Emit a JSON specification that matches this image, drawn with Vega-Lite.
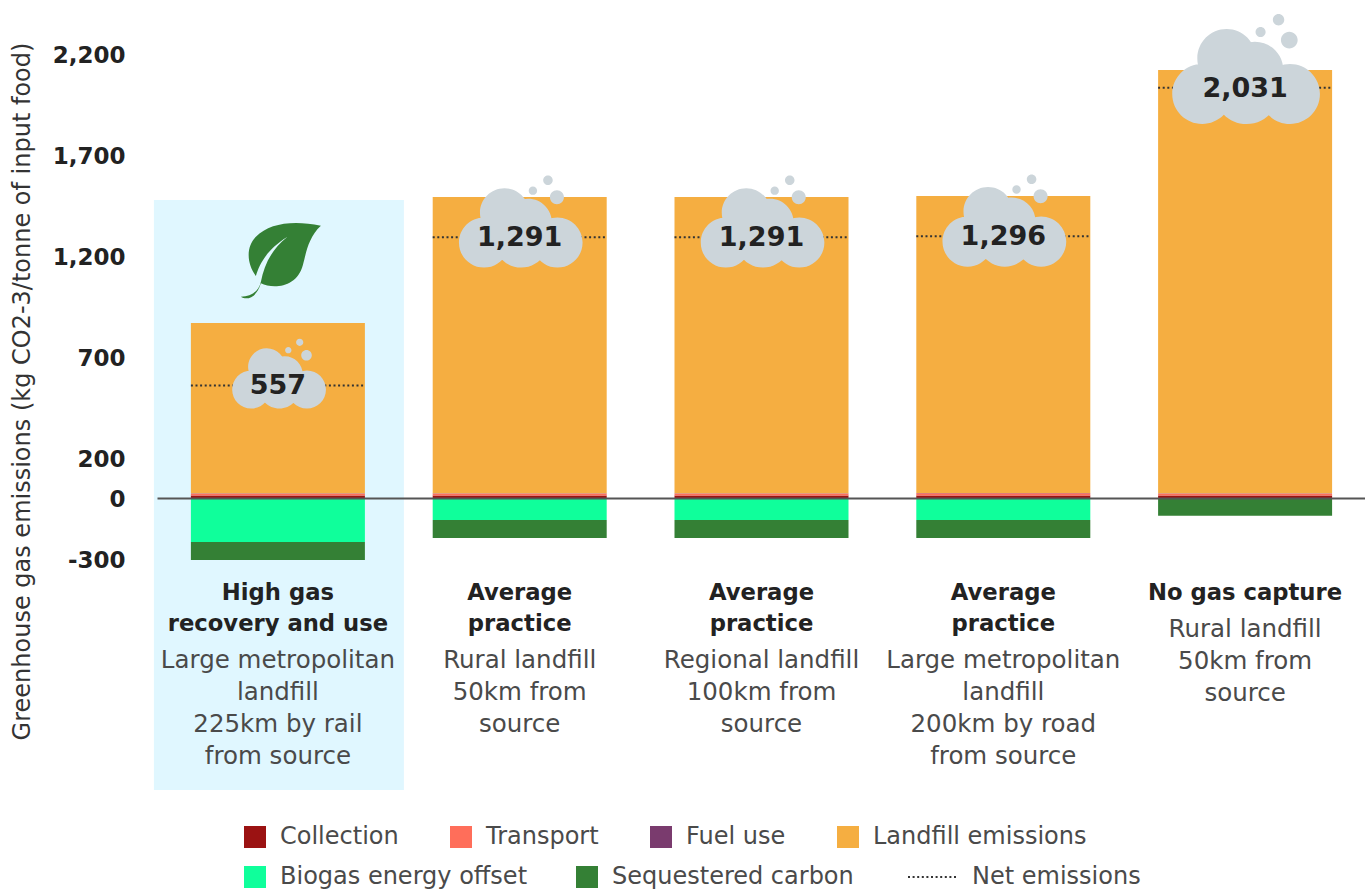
{
"$schema":"https://vega.github.io/schema/vega-lite/v6.json",
"width":1365,"height":890,"padding":0,"autosize":{"type":"none"},"background":"white",
"config":{"view":{"stroke":null},"font":"DejaVu Sans","text":{"font":"DejaVu Sans"},
"legend":{"title":null,"orient":"none","direction":"horizontal","symbolType":"square","symbolSize":484,"symbolOpacity":1,"symbolStrokeWidth":0,"labelFont":"DejaVu Sans","labelFontSize":24,"labelColor":"#4a4a4a","labelOffset":13,"columnPadding":50,"labelLimit":400,"padding":0}},
"datasets":{
"stack":[
{"scenario":"High gas recovery and use","series":"Collection","rank":1,"value":12},
{"scenario":"High gas recovery and use","series":"Transport","rank":2,"value":10},
{"scenario":"High gas recovery and use","series":"Fuel use","rank":3,"value":1},
{"scenario":"High gas recovery and use","series":"Landfill emissions","rank":4,"value":843},
{"scenario":"High gas recovery and use","series":"Biogas energy offset","rank":1,"value":-218},
{"scenario":"High gas recovery and use","series":"Sequestered carbon","rank":2,"value":-89},
{"scenario":"Average practice, rural","series":"Collection","rank":1,"value":12},
{"scenario":"Average practice, rural","series":"Transport","rank":2,"value":10},
{"scenario":"Average practice, rural","series":"Fuel use","rank":3,"value":1},
{"scenario":"Average practice, rural","series":"Landfill emissions","rank":4,"value":1467},
{"scenario":"Average practice, rural","series":"Biogas energy offset","rank":1,"value":-109},
{"scenario":"Average practice, rural","series":"Sequestered carbon","rank":2,"value":-89},
{"scenario":"Average practice, regional","series":"Collection","rank":1,"value":12},
{"scenario":"Average practice, regional","series":"Transport","rank":2,"value":10},
{"scenario":"Average practice, regional","series":"Fuel use","rank":3,"value":1},
{"scenario":"Average practice, regional","series":"Landfill emissions","rank":4,"value":1467},
{"scenario":"Average practice, regional","series":"Biogas energy offset","rank":1,"value":-109},
{"scenario":"Average practice, regional","series":"Sequestered carbon","rank":2,"value":-89},
{"scenario":"Average practice, metropolitan","series":"Collection","rank":1,"value":12},
{"scenario":"Average practice, metropolitan","series":"Transport","rank":2,"value":12},
{"scenario":"Average practice, metropolitan","series":"Fuel use","rank":3,"value":1},
{"scenario":"Average practice, metropolitan","series":"Landfill emissions","rank":4,"value":1470},
{"scenario":"Average practice, metropolitan","series":"Biogas energy offset","rank":1,"value":-109},
{"scenario":"Average practice, metropolitan","series":"Sequestered carbon","rank":2,"value":-89},
{"scenario":"No gas capture","series":"Collection","rank":1,"value":12},
{"scenario":"No gas capture","series":"Transport","rank":2,"value":10},
{"scenario":"No gas capture","series":"Fuel use","rank":3,"value":1},
{"scenario":"No gas capture","series":"Landfill emissions","rank":4,"value":2096},
{"scenario":"No gas capture","series":"Sequestered carbon","rank":2,"value":-88}
],
"net":[
{"scenario":"High gas recovery and use","measure":"Net emissions","value":557},
{"scenario":"Average practice, rural","measure":"Net emissions","value":1291},
{"scenario":"Average practice, regional","measure":"Net emissions","value":1291},
{"scenario":"Average practice, metropolitan","measure":"Net emissions","value":1296},
{"scenario":"No gas capture","measure":"Net emissions","value":2031}
],
"labels":[
{"scenario":"High gas recovery and use","title":"High gas\nrecovery and use","desc":"Large metropolitan\nlandfill\n225km by rail\nfrom source","titleLines":2,"highlight":true},
{"scenario":"Average practice, rural","title":"Average\npractice","desc":"Rural landfill\n50km from\nsource","titleLines":2,"highlight":false},
{"scenario":"Average practice, regional","title":"Average\npractice","desc":"Regional landfill\n100km from\nsource","titleLines":2,"highlight":false},
{"scenario":"Average practice, metropolitan","title":"Average\npractice","desc":"Large metropolitan\nlandfill\n200km by road\nfrom source","titleLines":2,"highlight":false},
{"scenario":"No gas capture","title":"No gas capture","desc":"Rural landfill\n50km from\nsource","titleLines":1,"highlight":false}
]
},
"encoding":{"x":{"field":"scenario","type":"nominal","sort":null,
"scale":{"type":"band","domain":["High gas recovery and use","Average practice, rural","Average practice, regional","Average practice, metropolitan","No gas capture"],"range":[157,1366],"paddingInner":0.28,"paddingOuter":0.14},
"axis":{"title":null,"labels":false,"ticks":false,"domain":true,"domainColor":"#555","domainWidth":2,"offset":-392,"orient":"bottom","zindex":1}}},
"layer":[
{"data":{"name":"labels"},"transform":[{"filter":"datum.highlight"}],
"mark":{"type":"bar","size":250,"color":"#e0f7ff","xOffset":1},
"encoding":{"y":{"datum":1475,"type":"quantitative","scale":{"domain":[-1940.6,2465.3],"nice":false,"zero":false},
"axis":{"values":[-300,0,200,700,1200,1700,2200],"labelExpr":"replace(format(datum.value, ','), '\u2212', '-')","offset":-125,"grid":false,"ticks":false,"domain":false,"labelPadding":0,"labelOffset":2,"labelFontSize":23,"labelFontWeight":"bold","labelColor":"#222222","labelFont":"DejaVu Sans","title":"Greenhouse gas emissions (kg CO2-3/tonne of input food)","titleFont":"DejaVu Sans","titleFontSize":24,"titleFontWeight":"normal","titleColor":"#333333","titleX":-103,"titleY":391,"titleAngle":-90,"titleAlign":"center","titleBaseline":"middle","titleLimit":900}},"y2":{"datum":-1445}}},
{"data":{"name":"stack"},"transform":[{"filter":"datum.value > 0"}],
"mark":{"type":"bar","size":174},
"encoding":{"y":{"field":"value","type":"quantitative","stack":"zero"},
"order":{"field":"rank"},
"color":{"field":"series","type":"nominal","scale":{"domain":["Collection","Transport","Fuel use","Landfill emissions"],"range":["#9b1212","#ff6e5a","#7a3b6e","#f5ae41"]},
"legend":{"legendX":243,"legendY":825,"columns":4}}}},
{"data":{"name":"stack"},"transform":[{"filter":"datum.value < 0"}],
"mark":{"type":"bar","size":174},
"encoding":{"y":{"field":"value","type":"quantitative","stack":"zero"},
"order":{"field":"rank"},
"fill":{"field":"series","type":"nominal","scale":{"domain":["Biogas energy offset","Sequestered carbon"],"range":["#0fff9b","#348035"]},
"legend":{"legendX":243,"legendY":865,"columns":2,"columnPadding":47}}}},
{"data":{"name":"net"},
"mark":{"type":"rule","xOffset":-87,"x2Offset":87,"strokeWidth":2,"color":"#333333"},
"encoding":{"x2":{"field":"scenario"},"y":{"field":"value","type":"quantitative"},
"strokeDash":{"field":"measure","type":"nominal","scale":{"domain":["Net emissions"],"range":[[2,2.6]]},
"legend":{"legendX":907,"legendY":851,"symbolType":"stroke","symbolSize":2500,"symbolStrokeColor":"#333333","symbolStrokeWidth":2}}}},
{"data":{"name":"net"},
"mark":{"type":"point","filled":true,"opacity":1,"color":"#ccd5da","strokeWidth":0,"xOffset":1.5,
"shape":"M-1.005,0.086A0.405,0.405 0 1 1 -0.195,0.086A0.405,0.405 0 1 1 -1.005,0.086ZM0.181,0.086A0.405,0.405 0 1 1 0.991,0.086A0.405,0.405 0 1 1 0.181,0.086ZM-0.437,0.054A0.437,0.437 0 1 1 0.437,0.054A0.437,0.437 0 1 1 -0.437,0.054ZM-0.666,-0.396A0.396,0.396 0 1 1 0.126,-0.396A0.396,0.396 0 1 1 -0.666,-0.396ZM-0.27,-0.239A0.383,0.383 0 1 1 0.496,-0.239A0.383,0.383 0 1 1 -0.27,-0.239ZM-0.45,-0.068A0.45,0.45 0 1 1 0.45,-0.068A0.45,0.45 0 1 1 -0.45,-0.068ZM0.121,-0.752A0.068,0.068 0 1 1 0.257,-0.752A0.068,0.068 0 1 1 0.121,-0.752ZM0.355,-0.919A0.077,0.077 0 1 1 0.509,-0.919A0.077,0.077 0 1 1 0.355,-0.919ZM0.464,-0.644A0.113,0.113 0 1 1 0.69,-0.644A0.113,0.113 0 1 1 0.464,-0.644Z"},
"encoding":{"y":{"field":"value","type":"quantitative"},
"size":{"field":"value","type":"quantitative","legend":null,"scale":{"type":"linear","zero":false,"nice":false,"domain":[557,2031],"range":[8836,21904]}}}},
{"data":{"name":"net"},
"mark":{"type":"text","fontSize":27,"fontWeight":"bold","color":"#222222","baseline":"middle","align":"center","dy":1,"font":"DejaVu Sans"},
"encoding":{"y":{"field":"value","type":"quantitative"},"text":{"field":"value","type":"quantitative","format":","}}},
{"data":{"name":"labels"},"transform":[{"filter":"datum.highlight"}],
"mark":{"type":"point","filled":true,"opacity":1,"color":"#348035","strokeWidth":0,"size":6400,"xOffset":3,
"shape":"M1,-0.883C0.292,-1.025 -0.292,-0.942 -0.625,-0.608C-0.875,-0.358 -0.858,0.058 -0.625,0.375C-0.542,0.1 -0.375,-0.275 0.167,-0.608C-0.25,-0.275 -0.417,0.1 -0.5,0.517C-0.558,0.767 -0.75,0.892 -1,0.892C-0.875,0.975 -0.625,0.958 -0.5,0.558C-0.208,0.70 0.40,0.68 0.55,0.10C0.62,-0.15 0.68,-0.6 1,-0.883Z"},
"encoding":{"y":{"datum":1173,"type":"quantitative"}}},
{"data":{"name":"labels"},
"mark":{"type":"text","fontSize":22.7,"fontWeight":"bold","color":"#222222","baseline":"top","align":"center","lineBreak":"\n","lineHeight":31.5,"font":"DejaVu Sans"},
"encoding":{"y":{"datum":-414,"type":"quantitative"},"text":{"field":"title","type":"nominal"}}},
{"data":{"name":"labels"},"transform":[{"filter":"datum.titleLines == 2"}],
"mark":{"type":"text","fontSize":24.5,"color":"#4a4a4a","baseline":"top","align":"center","lineBreak":"\n","lineHeight":32,"font":"DejaVu Sans"},
"encoding":{"y":{"datum":-749,"type":"quantitative"},"text":{"field":"desc","type":"nominal"}}},
{"data":{"name":"labels"},"transform":[{"filter":"datum.titleLines == 1"}],
"mark":{"type":"text","fontSize":24.5,"color":"#4a4a4a","baseline":"top","align":"center","lineBreak":"\n","lineHeight":32,"font":"DejaVu Sans"},
"encoding":{"y":{"datum":-595,"type":"quantitative"},"text":{"field":"desc","type":"nominal"}}}
]
}
